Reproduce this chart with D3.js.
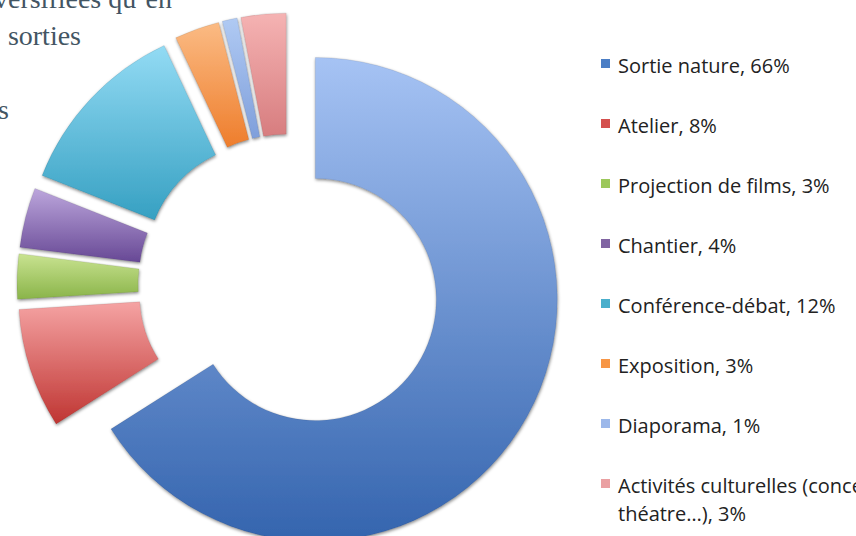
<!DOCTYPE html>
<html>
<head>
<meta charset="utf-8">
<script src="https://cdn.jsdelivr.net/npm/d3@7"></script>
<style>
  html, body { margin: 0; padding: 0; background: #fff; overflow: hidden; }
  svg { display: block; }
</style>
</head>
<body>
<div id="chart"></div>
<script>
/* DATA */
const categories = [
  "Sortie nature",
  "Atelier",
  "Projection de films",
  "Chantier",
  "Conférence-débat",
  "Exposition",
  "Diaporama",
  "Activités culturelles (concert, théatre…)"
];
const shares = [66, 8, 3, 4, 12, 3, 1, 3];
// legend lines (the last entry wraps on two lines)
const legendLines = [
  ["Sortie nature, 66%"],
  ["Atelier, 8%"],
  ["Projection de films, 3%"],
  ["Chantier, 4%"],
  ["Conférence-débat, 12%"],
  ["Exposition, 3%"],
  ["Diaporama, 1%"],
  ["Activités culturelles (concert,", "théatre…), 3%"]
];
// background slide text, partly hidden behind the chart
const slideText = ["diversifiées qu’en", "sorties", "s"];

/* STYLES */
const topColors =    ["#a6c3f4", "#f5a3a3", "#c9e391", "#bca6dc", "#93dbf4", "#fbbb84", "#b0caf3", "#f5b3b3"];
const bottomColors = ["#3464ae", "#bf3532", "#8ab449", "#674895", "#36a0c2", "#ee7d2c", "#7f9fdb", "#d77d7f"];
const keyColors =    ["#4b7ec5", "#d4504e", "#9cc85b", "#8064a2", "#4aafcc", "#f79646", "#9cb8ea", "#eaa0a2"];

const width = 856,
  height = 536,
  cx = 289, cy = 285,
  outerR = 242, innerR = 121,
  explode = 30;

const svg = d3.select("#chart")
  .append("svg")
  .attr("width", width)
  .attr("height", height);

svg.append("rect")
  .attr("width", width)
  .attr("height", height)
  .attr("fill", "#fff");

const defs = svg.append("defs");

const shadow = defs.append("filter")
  .attr("id", "shadow")
  .attr("x", "-10%").attr("y", "-10%")
  .attr("width", "120%").attr("height", "120%");
shadow.append("feDropShadow")
  .attr("dx", 0.5).attr("dy", 1.5)
  .attr("stdDeviation", 1.4)
  .attr("flood-color", "#000")
  .attr("flood-opacity", 0.45);

categories.forEach((c, i) => {
  const g = defs.append("linearGradient")
    .attr("id", "grad" + i)
    .attr("x1", 0).attr("y1", 0)
    .attr("x2", 0).attr("y2", 1);
  g.append("stop").attr("offset", "0%").attr("stop-color", topColors[i]);
  g.append("stop").attr("offset", "100%").attr("stop-color", bottomColors[i]);
});

/* SLIDE TEXT */
const textG = svg.append("g")
  .attr("font-family", "'Liberation Serif', 'DejaVu Serif', serif")
  .attr("font-size", 28)
  .attr("fill", "#435563");
textG.append("text").attr("x", 172).attr("y", 8).attr("text-anchor", "end").text(slideText[0]);
textG.append("text").attr("x", 81).attr("y", 45).attr("text-anchor", "end").text(slideText[1]);
textG.append("text").attr("x", 9).attr("y", 119).attr("text-anchor", "end").text(slideText[2]);

/* DONUT */
const pie = d3.pie()
  .sort(null)
  .value(d => d)
  .startAngle(0)
  .endAngle(2 * Math.PI);

const arc = d3.arc()
  .innerRadius(innerR)
  .outerRadius(outerR);

const arcs = pie(shares);

svg.append("g")
  .attr("transform", `translate(${cx}, ${cy})`)
  .selectAll("path")
  .data(arcs)
  .join("path")
  .attr("transform", d => {
    const a = (d.startAngle + d.endAngle) / 2;
    return `translate(${explode * Math.sin(a)}, ${-explode * Math.cos(a)})`;
  })
  .attr("d", arc)
  .attr("fill", (d, i) => `url(#grad${i})`)
  .attr("stroke", "rgba(0,0,0,0.12)")
  .attr("stroke-width", 0.7)
  .attr("filter", "url(#shadow)");

/* LEGEND */
const legendY = d3.scalePoint()
  .domain(categories)
  .range([73, 493]);

const legend = svg.append("g")
  .attr("font-family", "'Open Sans', Lato, sans-serif")
  .attr("font-size", 20)
  .attr("fill", "#222");

const items = legend.selectAll("g")
  .data(categories)
  .join("g")
  .attr("transform", d => `translate(601, ${legendY(d)})`);

items.append("rect")
  .attr("x", 0)
  .attr("y", -14)
  .attr("width", 9)
  .attr("height", 9)
  .attr("fill", (d, i) => keyColors[i]);

items.append("text")
  .attr("x", 17)
  .attr("y", 0)
  .selectAll("tspan")
  .data((d, i) => legendLines[i])
  .join("tspan")
  .attr("x", 17)
  .attr("dy", (d, j) => j === 0 ? 0 : 28)
  .text(d => d);
</script>
</body>
</html>
